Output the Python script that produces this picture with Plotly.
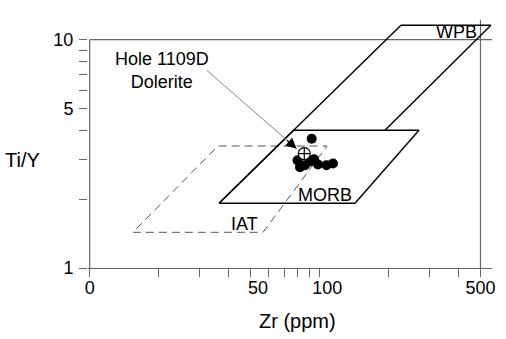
import numpy as np
import plotly.graph_objects as go

# ---- data ----
wpb_zr = [36.5, 225.6, 555.0, 192.2]
wpb_tiy = [1.92, 11.55, 11.55, 4.01]
morb_zr = [36.5, 142.4, 270.2, 77.0, 36.5]
morb_tiy = [1.92, 1.92, 4.01, 4.01, 1.92]
iat_zr = [15.4, 56.7, 107.6, 36.1, 15.4]
iat_tiy = [1.433, 1.433, 3.42, 3.42, 1.433]

sample_zr = [92.3, 80.1, 82.1, 86.3, 90.7, 94.5, 98.3, 107.1, 114.2]
sample_tiy = [3.68, 2.96, 2.76, 2.82, 2.93, 2.99, 2.84, 2.82, 2.87]
avg_zr = [85.7]
avg_tiy = [3.17]

x_tickvals = [10, 50, 100, 500]
x_ticktext = ["0", "\u00a0\u00a0\u00a050", "\u00a0\u00a0\u00a0100", "500"]
x_minor = [20, 30, 40, 60, 70, 80, 90, 200, 300, 400]
y_tickvals = [1, 5, 10]
y_ticktext = ["1", "5", "10"]
y_minor = [2, 3, 4, 6, 7, 8, 9]

FONT = "Liberation Sans, Arial, Helvetica, sans-serif"
GREY = "#666666"

# axis geometry (px per decade)
XPD = 230.0
YPD = 228.4
L, R, T, B = 88, 14, 20, 71
W, H = 506, 339
x0 = 1 - 1.7 / XPD
x1 = x0 + (W - L - R) / XPD
y0 = 0.0
y1 = (H - T - B) / YPD
xmax = 10 ** x1
ymax = 10 ** y1
PW = W - L - R
PH = H - T - B

fig = go.Figure()

# frame lines
fig.add_trace(go.Scatter(x=[10, 10], y=[1, 10], mode="lines",
                         line=dict(color=GREY, width=1.2), hoverinfo="skip"))
fig.add_trace(go.Scatter(x=[10, xmax], y=[10, 10], mode="lines",
                         line=dict(color=GREY, width=1.2), hoverinfo="skip"))
fig.add_trace(go.Scatter(x=[500, 500], y=[1, ymax], mode="lines",
                         line=dict(color=GREY, width=1.2), hoverinfo="skip"))

# fields
fig.add_trace(go.Scatter(x=iat_zr, y=iat_tiy, mode="lines",
                         line=dict(color="#555555", width=1, dash="8px,5px"), hoverinfo="skip"))
fig.add_trace(go.Scatter(x=wpb_zr, y=wpb_tiy, mode="lines",
                         line=dict(color="black", width=1.4), hoverinfo="skip"))
fig.add_trace(go.Scatter(x=morb_zr, y=morb_tiy, mode="lines",
                         line=dict(color="black", width=1.4), hoverinfo="skip"))

# samples
fig.add_trace(go.Scatter(x=sample_zr, y=sample_tiy, mode="markers",
                         marker=dict(color="black", size=10, line=dict(width=0)),
                         hoverinfo="skip"))
fig.add_trace(go.Scatter(x=avg_zr, y=avg_tiy, mode="markers",
                         marker=dict(symbol="circle-cross", color="white", size=12,
                                     line=dict(color="black", width=1.2)),
                         hoverinfo="skip"))

# arrow line (grey) + head
tip_zr, tip_tiy = 79.4, 3.33
tail_zr, tail_tiy = 32.3, 7.34
fig.add_trace(go.Scatter(x=[tail_zr, tip_zr], y=[tail_tiy, tip_tiy], mode="lines",
                         line=dict(color="#888888", width=1), hoverinfo="skip"))

ann = []
ann.append(dict(x=np.log10(tip_zr), y=np.log10(tip_tiy), xref="x", yref="y",
                ax=-11, ay=-9.5, showarrow=True, arrowhead=2, arrowsize=1.5,
                arrowwidth=1.4, arrowcolor="black", text="", standoff=0))
ann.append(dict(x=np.log10(20.6), y=np.log10(7.34), xref="x", yref="y",
                text="Hole 1109D<br>Dolerite", showarrow=False,
                font=dict(family=FONT, size=18, color="black")))
ann.append(dict(x=np.log10(394), y=np.log10(10.76), xref="x", yref="y",
                text="WPB", showarrow=False, font=dict(family=FONT, size=18, color="black")))
ann.append(dict(x=np.log10(105.4), y=np.log10(2.08), xref="x", yref="y",
                text="MORB", showarrow=False, font=dict(family=FONT, size=18, color="black")))
ann.append(dict(x=np.log10(46.9), y=np.log10(1.554), xref="x", yref="y",
                text="IAT", showarrow=False, font=dict(family=FONT, size=18, color="black")))
ann.append(dict(x=(297 - L) / PW, y=(H - B - 321) / PH, xref="paper", yref="paper",
                xanchor="center", yanchor="middle",
                text="Zr (ppm)", showarrow=False, font=dict(family=FONT, size=20, color="black")))
ann.append(dict(x=(22 - L) / PW, y=(H - B - 160) / PH, xref="paper", yref="paper",
                xanchor="center", yanchor="middle",
                text="Ti/Y", showarrow=False, font=dict(family=FONT, size=20, color="black")))

fig.update_layout(
    width=W, height=H,
    margin=dict(l=L, r=R, t=T, b=B, pad=0),
    paper_bgcolor="white", plot_bgcolor="white",
    showlegend=False,
    annotations=ann,
    xaxis=dict(type="log", range=[x0, x1], showgrid=False, zeroline=False,
               showline=True, linecolor=GREY, linewidth=1.2,
               ticks="outside", ticklen=8, tickcolor=GREY, tickwidth=1.2,
               tickvals=x_tickvals, ticktext=x_ticktext, ticklabelstandoff=-5,
               tickfont=dict(family=FONT, size=18, color="black"),
               minor=dict(tickvals=x_minor, ticks="outside", ticklen=8,
                          tickcolor=GREY, tickwidth=1.2, showgrid=False)),
    yaxis=dict(type="log", range=[y0, y1], showgrid=False, zeroline=False,
               showline=False,
               ticks="outside", ticklen=8, tickcolor=GREY, tickwidth=1.2,
               tickvals=y_tickvals, ticktext=y_ticktext, ticklabelstandoff=2,
               tickfont=dict(family=FONT, size=18, color="black"),
               minor=dict(tickvals=y_minor, ticks="outside", ticklen=8,
                          tickcolor=GREY, tickwidth=1.2, showgrid=False)),
)

fig.write_html("out.html")
